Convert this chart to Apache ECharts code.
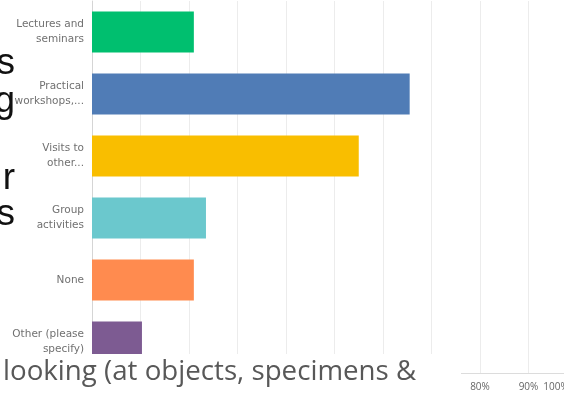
<!DOCTYPE html>
<html><head><meta charset="utf-8">
<script src="https://cdn.jsdelivr.net/npm/echarts@6/dist/echarts.min.js"></script>
<style>html,body{margin:0;padding:0;background:#fff}#c{width:564px;height:398px}</style>
</head><body><div id="c"></div>
<script>
// ---- data ----
const categories = ["Lectures and\nseminars", "Practical\nworkshops,...", "Visits to\nother...", "Group\nactivities", "None", "Other (please\nspecify)"];
const values = [21, 65.5, 55, 23.5, 21, 10.3];
const xMin = 0, xMax = 100, xStep = 10;
const palette = ['#00bf6f', '#507cb6', '#f9be00', '#6bc8cd', '#ff8b4f', '#7d5b92'];
const overlayLine = "looking (at objects, specimens &";
const sideLetters = ["s", "g", "r", "s"];
const sideLetterY = [64, 102, 179, 215];

const chart = echarts.init(document.getElementById('c'), null, {renderer: 'canvas'});
const font = "'Open Sans', 'Noto Sans', sans-serif";
const catFont = "'DejaVu Sans', 'Open Sans', sans-serif";

const graphics = [
  {type: 'rect', z: 100, shape: {x: 0, y: 354, width: 461, height: 44}, style: {fill: '#ffffff'}},
  {type: 'text', z: 101, style: {text: overlayLine, x: 3, y: 372, verticalAlign: 'middle', font: "27.7px 'Open Sans', sans-serif", fill: '#585858'}}
];
sideLetters.forEach((t, i) => {
  graphics.push({type: 'text', z: 101, style: {text: t, x: 15, y: sideLetterY[i], align: 'right', verticalAlign: 'middle', font: "37px 'Liberation Sans', Arial, sans-serif", fill: '#111'}});
});

chart.setOption({
  animation: false,
  backgroundColor: '#ffffff',
  grid: {left: 92, top: 1, right: -13, bottom: 25, containLabel: false, outerBoundsMode: 'none'},
  xAxis: {
    type: 'value', min: xMin, max: xMax, interval: xStep,
    axisLine: {show: true, lineStyle: {color: '#dcdcdc', width: 1}},
    axisTick: {show: false},
    splitLine: {show: true, lineStyle: {color: '#ececec', width: 1}},
    axisLabel: {
      color: '#666', fontSize: 10, fontFamily: font, margin: 9, showMaxLabel: true,
      formatter: v => v === xMax ? '{m|' + v + '%}' : v + '%',
      rich: {m: {color: '#666', fontSize: 10, fontFamily: font, padding: [0, 42, 0, 0]}}
    }
  },
  yAxis: {
    type: 'category', data: categories, inverse: true,
    axisLine: {show: true, lineStyle: {color: '#d5d5d5', width: 1}},
    axisTick: {show: false},
    axisLabel: {color: '#707070', fontSize: 10.5, lineHeight: 14.5, fontFamily: catFont, margin: 8, align: 'right'}
  },
  series: [{
    type: 'bar', barWidth: 41,
    data: values.map((v, i) => ({value: v, itemStyle: {color: palette[i]}})),
    silent: true
  }],
  graphic: graphics
});
</script>
</body></html>
